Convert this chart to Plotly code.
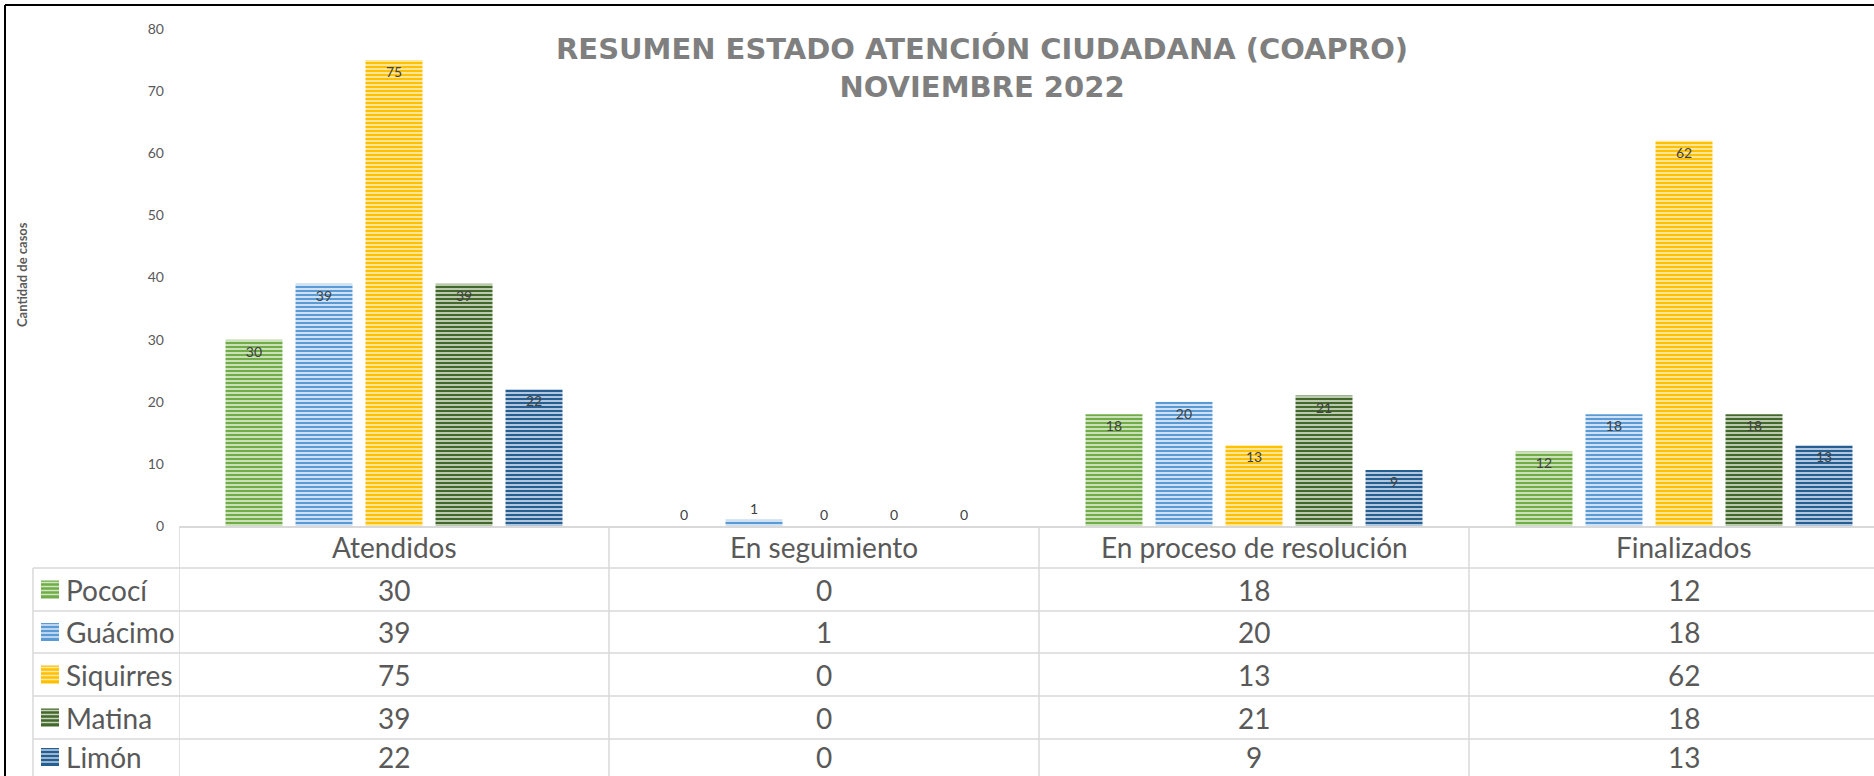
import plotly.graph_objects as go

# ---------------- data ----------------
categories = ["Atendidos", "En seguimiento", "En proceso de resolución", "Finalizados"]
series_names = ["Pococí", "Guácimo", "Siquirres", "Matina", "Limón"]
pococi = [30, 0, 18, 12]
guacimo = [39, 1, 20, 18]
siquirres = [75, 0, 13, 62]
matina = [39, 0, 21, 18]
limon = [22, 0, 9, 13]
y_ticks = [0, 10, 20, 30, 40, 50, 60, 70, 80]

series_values = [pococi, guacimo, siquirres, matina, limon]
main_colors = ["#70AD47", "#5B9BD5", "#FFC000", "#43682B", "#255E91"]
light_colors = ["#D3E6C6", "#DCE9F6", "#FFE9A8", "#C8D4BE", "#C2D3E6"]

title_text = "RESUMEN ESTADO ATENCIÓN CIUDADANA (COAPRO)<br>NOVIEMBRE 2022"
y_title = "Cantidad de casos"

# ---------------- geometry (pixels) ----------------
W, H = 1874, 776
L, T = 179, 29          # plot area left / top
B_PX = 526              # baseline pixel row
PLOT_W = W - L
PLOT_H = B_PX - T
CAT_PX = 430            # width of one category in pixels
x_end = -0.5 + PLOT_W / CAT_PX


def px_x(px):
    return (px - L) / PLOT_W


def px_y(py):
    return (B_PX - py) / PLOT_H


FONT = "Lato"
TXT = "#595959"
GRID = "#D9D9D9"
TABLE_SIZE = 28

fig = go.Figure()
x_idx = list(range(len(categories)))
for name, vals, mc, lc in zip(series_names, series_values, main_colors, light_colors):
    fig.add_trace(go.Bar(
        x=x_idx, y=vals, name=name,
        marker=dict(color=lc,
                    pattern=dict(shape="-", fgcolor=mc, bgcolor=lc, size=4,
                                 solidity=0.55, fillmode="replace"),
                    line=dict(width=0)),
        text=[str(v) for v in vals],
        textposition=["outside" if v <= 1 else "inside" for v in vals],
        insidetextanchor="end",
        insidetextfont=dict(family=FONT, size=14, color="#404040"),
        outsidetextfont=dict(family=FONT, size=14, color="#404040"),
        cliponaxis=False,
    ))

shapes = []
annotations = []

# table geometry
header_top, header_bot = 526, 568
row_lines = [568, 611, 653, 696, 739, 782]
line_style = dict(color=GRID, width=1.5)

# horizontal lines
for ry in row_lines[:-1]:
    shapes.append(dict(type="line", xref="paper", yref="paper",
                       x0=px_x(33), x1=1, y0=px_y(ry), y1=px_y(ry), line=line_style))
# vertical category lines
for k in range(len(categories) + 1):
    shapes.append(dict(type="line", xref="x", yref="paper",
                       x0=k - 0.5, x1=k - 0.5, y0=px_y(header_top), y1=px_y(H + 5),
                       line=line_style))
# legend column left line
shapes.append(dict(type="line", xref="paper", yref="paper",
                   x0=px_x(33), x1=px_x(33), y0=px_y(header_bot), y1=px_y(H + 5),
                   line=line_style))

# header texts
for k, c in enumerate(categories):
    annotations.append(dict(xref="x", yref="paper", x=k, y=px_y((header_top + header_bot) / 2),
                            text=c, showarrow=False, xanchor="center", yanchor="middle",
                            font=dict(family=FONT, size=TABLE_SIZE, color=TXT)))

# rows
for r, (name, vals, mc, lc) in enumerate(zip(series_names, series_values, main_colors, light_colors)):
    cy = min((row_lines[r] + row_lines[r + 1]) / 2, H - 19)
    # legend key
    shapes.append(dict(type="rect", xref="paper", yref="paper",
                       x0=px_x(41), x1=px_x(59), y0=px_y(cy - 9), y1=px_y(cy + 9),
                       fillcolor=mc, line=dict(width=0)))
    for off in (-7, -3, 1, 5):
        shapes.append(dict(type="line", xref="paper", yref="paper",
                           x0=px_x(41), x1=px_x(59), y0=px_y(cy + off), y1=px_y(cy + off),
                           line=dict(color=lc, width=1.5)))
    annotations.append(dict(xref="paper", yref="paper", x=px_x(64), y=px_y(cy),
                            text=name, showarrow=False, xanchor="left", yanchor="middle",
                            font=dict(family=FONT, size=TABLE_SIZE, color=TXT)))
    for k, v in enumerate(vals):
        annotations.append(dict(xref="x", yref="paper", x=k, y=px_y(cy),
                                text=str(v), showarrow=False, xanchor="center", yanchor="middle",
                                font=dict(family=FONT, size=TABLE_SIZE, color=TXT)))

# y axis title
annotations.append(dict(xref="paper", yref="paper", x=px_x(22), y=px_y(275),
                        text=f"<b>{y_title}</b>", textangle=-90, showarrow=False,
                        xanchor="center", yanchor="middle",
                        font=dict(family=FONT, size=13, color=TXT)))
# chart title
annotations.append(dict(xref="paper", yref="paper", x=px_x(982), y=px_y(68),
                        text=f"<b>{title_text}</b>", showarrow=False,
                        xanchor="center", yanchor="middle",
                        font=dict(family="DejaVu Sans", size=29, color="#7F7F7F")))

# outer black frame (top & left)
shapes.append(dict(type="line", xref="paper", yref="paper",
                   x0=px_x(5), x1=1.01, y0=px_y(5), y1=px_y(5),
                   line=dict(color="#000000", width=2)))
shapes.append(dict(type="line", xref="paper", yref="paper",
                   x0=px_x(5), x1=px_x(5), y0=px_y(5), y1=px_y(H + 5),
                   line=dict(color="#000000", width=2)))

fig.update_layout(
    width=W, height=H,
    margin=dict(l=L, r=0, t=T, b=H - B_PX, pad=0),
    paper_bgcolor="white", plot_bgcolor="white",
    barmode="group", bargap=0.186, bargroupgap=0.186,
    showlegend=False,
    xaxis=dict(range=[-0.5, x_end], showticklabels=False, showgrid=False,
               zeroline=False, showline=True, linecolor=GRID, linewidth=1.5, ticks=""),
    yaxis=dict(range=[0, 80], tickvals=y_ticks, showgrid=False, zeroline=False,
               showline=False, ticks="", ticklabelstandoff=14,
               tickfont=dict(family=FONT, size=14, color=TXT)),
    shapes=shapes, annotations=annotations,
    font=dict(family=FONT, color=TXT),
)

fig.write_html("out.html", config={"displayModeBar": False},
               post_script="document.body.style.margin='0';document.body.style.overflow='hidden';")
